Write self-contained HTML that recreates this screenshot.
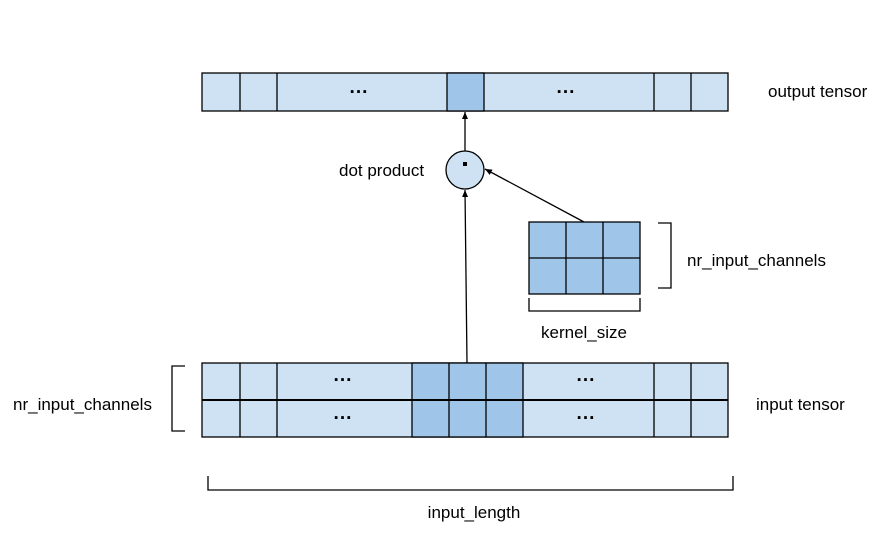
<html><body style="margin:0;background:#fff">
<svg width="875" height="536" xmlns="http://www.w3.org/2000/svg" font-family="Liberation Sans, Arial, sans-serif" font-size="17" fill="#000">
<defs><marker id="a" markerWidth="8" markerHeight="8" refX="7" refY="4" orient="auto" markerUnits="userSpaceOnUse"><path d="M0,1 L7,4 L0,7 z" fill="#000"/></marker></defs>
<g stroke="#000" stroke-width="1.3">
<rect x="202" y="73" width="526" height="38" fill="#cfe2f3"/>
<rect x="447" y="73" width="37" height="38" fill="#9fc5e8"/>
<line x1="240" y1="73" x2="240" y2="111"/><line x1="277" y1="73" x2="277" y2="111"/>
<line x1="654" y1="73" x2="654" y2="111"/><line x1="691" y1="73" x2="691" y2="111"/>
<rect x="202" y="363" width="526" height="74" fill="#cfe2f3"/>
<rect x="412" y="363" width="111" height="74" fill="#9fc5e8"/>
<line x1="202" y1="400" x2="728" y2="400" stroke-width="2"/>
<line x1="240" y1="363" x2="240" y2="437"/><line x1="277" y1="363" x2="277" y2="437"/>
<line x1="449" y1="363" x2="449" y2="437"/><line x1="486" y1="363" x2="486" y2="437"/>
<line x1="654" y1="363" x2="654" y2="437"/><line x1="691" y1="363" x2="691" y2="437"/>
<rect x="529" y="222" width="111" height="72" fill="#9fc5e8"/>
<line x1="529" y1="258" x2="640" y2="258"/>
<line x1="566" y1="222" x2="566" y2="294"/><line x1="603" y1="222" x2="603" y2="294"/>
<circle cx="465" cy="170" r="19" fill="#cfe2f3"/>
<line x1="467" y1="363" x2="465" y2="190" marker-end="url(#a)"/>
<line x1="465" y1="151" x2="465" y2="112" marker-end="url(#a)"/>
<line x1="584" y1="222" x2="485" y2="169" marker-end="url(#a)"/>
<g fill="none">
<path d="M658,223 H671 V288 H658"/>
<path d="M529,298 V311 H640 V298"/>
<path d="M185,366 H172 V431 H185"/>
<path d="M208,476 V490 H733 V476"/>
</g>
</g>
<rect x="463" y="162" width="4" height="4" fill="#000"/>
<g font-weight="bold" font-size="19" text-anchor="middle">
<text x="359" y="98">···</text>
<text x="566" y="98">···</text>
<text x="343" y="386">···</text>
<text x="343" y="424">···</text>
<text x="586" y="386">···</text>
<text x="586" y="424">···</text>
</g>
<text x="768" y="97">output tensor</text>
<text x="339" y="176">dot product</text>
<text x="687" y="266">nr_input_channels</text>
<text x="584" y="338" text-anchor="middle">kernel_size</text>
<text x="13" y="410">nr_input_channels</text>
<text x="756" y="410">input tensor</text>
<text x="474" y="518" text-anchor="middle">input_length</text>
</svg>
</body></html>
